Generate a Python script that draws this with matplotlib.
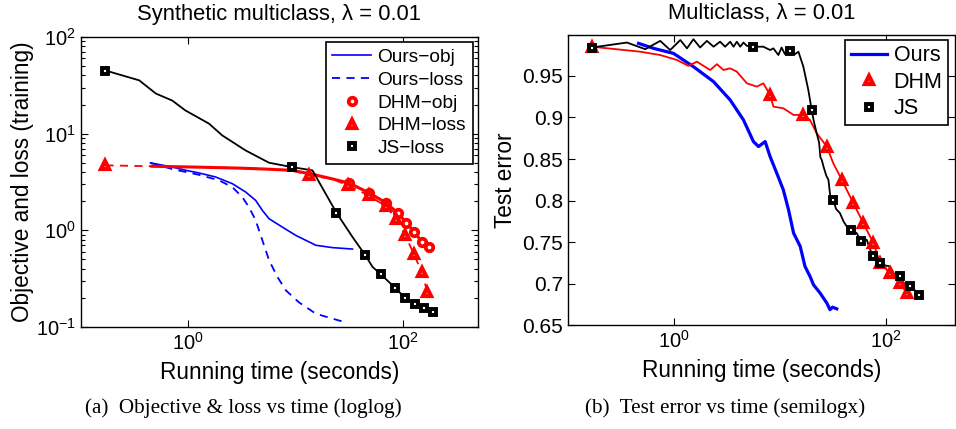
import numpy as np
import matplotlib
matplotlib.use("Agg")
import matplotlib.pyplot as plt
from matplotlib.ticker import LogLocator, NullLocator, FixedLocator, NullFormatter

plt.rcParams['font.family'] = ['Liberation Sans', 'DejaVu Sans']
plt.rcParams['mathtext.fontset'] = 'custom'
plt.rcParams['mathtext.rm'] = 'Liberation Sans'
plt.rcParams['mathtext.it'] = 'Liberation Sans:italic'
plt.rcParams['mathtext.default'] = 'regular'

# ---------------- Left panel data (loglog) ----------------
ours_obj_t = [0.446, 0.71, 0.944, 1.26, 1.8, 2.57, 3.42, 4.24, 4.89, 5.64, 7.5, 10.0, 15.4, 22.0, 33.7]
ours_obj_y = [4.98, 4.52, 4.18, 3.92, 3.56, 3.04, 2.49, 2.04, 1.61, 1.32, 1.08, 0.887, 0.70, 0.662, 0.64]

ours_loss_t = [0.446, 0.71, 1.26, 1.93, 2.57, 3.18, 3.67, 4.24, 4.89, 5.65, 6.75, 8.07, 10.7, 15.4, 22.0, 30.3]
ours_loss_y = [4.98, 4.3, 3.75, 3.29, 2.8, 2.21, 1.74, 1.27, 0.79, 0.49, 0.33, 0.24, 0.18, 0.137, 0.122, 0.11]

dhm_obj_t = [0.46, 1.26, 3.0, 5.25, 9.3, 14.3, 22.0, 31.4, 48.3, 69.0, 88.6, 107.0, 126.0, 150.0, 174.0]
dhm_obj_y = [4.6, 4.5, 4.4, 4.3, 4.17, 3.8, 3.4, 3.08, 2.43, 1.93, 1.51, 1.2, 0.96, 0.757, 0.68]
dhm_obj_marks = [7, 8, 9, 10, 11, 12, 13, 14]

dhm_loss_t = [0.17, 0.46, 1.26, 3.0, 5.25, 9.3, 13.3, 22.0, 30.3, 47.5, 69.0, 85.5, 104.0, 126.0, 148.0, 168.0]
dhm_loss_y = [4.7, 4.6, 4.5, 4.4, 4.3, 4.17, 3.7, 3.4, 2.92, 2.3, 1.77, 1.32, 0.89, 0.565, 0.37, 0.23]
dhm_loss_marks = [0, 6, 8, 9, 10, 11, 12, 13, 14, 15]

js_loss_t = [0.17, 0.35, 0.5, 0.71, 0.94, 1.56, 2.07, 3.42, 5.65, 9.3, 14.3, 23.9, 33.7, 44.0, 51.8, 62.0, 83.6, 104.0, 129.0, 155.0, 188.0]
js_loss_y = [45.0, 35.6, 26.0, 22.0, 17.4, 12.7, 9.6, 6.7, 5.0, 4.5, 4.17, 1.52, 0.853, 0.56, 0.418, 0.35, 0.255, 0.2, 0.171, 0.158, 0.143]
js_loss_marks = [0, 9, 11, 13, 15, 16, 17, 18, 19, 20]

# ---------------- Right panel data (semilogx) ----------------
ours_t = [0.464, 0.643, 0.99, 1.53, 2.37, 3.4, 4.54, 5.64, 6.3, 7.28, 8.1, 9.37, 10.8, 12.1, 13.5, 15.6, 17.3, 19.3, 20.8, 24.0, 27.8, 29.8, 31.5, 34.5]
ours_err = [0.989, 0.983, 0.977, 0.961, 0.943, 0.921, 0.897, 0.871, 0.865, 0.871, 0.853, 0.833, 0.813, 0.789, 0.761, 0.745, 0.721, 0.709, 0.699, 0.689, 0.677, 0.669, 0.672, 0.670]

dhm_t = [0.168, 0.481, 0.743, 1.07, 1.37, 1.65, 2.2, 2.55, 2.94, 3.4, 3.93, 4.89, 6.07, 7.0, 8.1, 8.7, 10.8, 13.5, 16.7, 19.3, 22.3, 27.8, 32.0, 38.5, 49.5, 61.5, 76.5, 88.5, 110.0, 136.0, 158.0]
dhm_err = [0.985, 0.979, 0.975, 0.969, 0.962, 0.967, 0.957, 0.964, 0.957, 0.959, 0.955, 0.941, 0.937, 0.941, 0.927, 0.913, 0.911, 0.903, 0.903, 0.897, 0.881, 0.865, 0.845, 0.825, 0.797, 0.773, 0.749, 0.725, 0.713, 0.701, 0.689]
dhm_marks = [0, 14, 18, 21, 23, 24, 25, 26, 27, 28, 29, 30]

js_t = [0.168, 0.36, 0.537, 0.743, 0.923, 1.15, 1.33, 1.53, 1.77, 2.05, 2.37, 2.73, 3.05, 3.4, 3.66, 3.93, 4.23, 4.54, 4.89, 5.64, 7.0, 8.1, 8.7, 9.7, 10.4, 11.2, 12.5, 13.9, 15.0, 16.7, 18.6, 20.0, 21.0, 22.3, 23.5, 24.2, 24.9, 26.0, 27.5, 28.8, 30.0, 32.0, 34.0, 37.0, 40.0, 42.9, 47.0, 53.2, 58.0, 66.2, 72.0, 76.5, 82.0, 88.5, 100.0, 110.0, 120.0, 136.0, 150.0, 170.0, 190.0, 208.0]
js_err = [0.984, 0.990, 0.982, 0.992, 0.981, 0.993, 0.983, 0.994, 0.984, 0.992, 0.985, 0.991, 0.985, 0.991, 0.985, 0.991, 0.985, 0.990, 0.986, 0.985, 0.985, 0.981, 0.983, 0.975, 0.984, 0.976, 0.980, 0.976, 0.979, 0.961, 0.933, 0.909, 0.895, 0.881, 0.870, 0.852, 0.849, 0.840, 0.830, 0.825, 0.805, 0.801, 0.790, 0.785, 0.775, 0.769, 0.765, 0.761, 0.752, 0.753, 0.740, 0.733, 0.730, 0.725, 0.722, 0.721, 0.712, 0.709, 0.700, 0.697, 0.692, 0.687]
js_marks = [0, 19, 26, 31, 41, 46, 48, 51, 53, 57, 59, 61]

# ---------------- Figure ----------------
fig = plt.figure(figsize=(9.56, 4.29), dpi=100)
FS = 16.3
TITLE_FS = 15.8
TFS = 14.5
SQ = dict(marker='s', ls='none', mfc='white', mew=2.8, ms=4.6)
TRI = dict(marker='^', ls='none', mfc='white', mew=3.0, ms=5.8)
CIR = dict(marker='o', ls='none', mfc='white', mew=2.7, ms=5.4)

def take(a, idx):
    a = np.asarray(a, dtype=float)
    return a[idx]

def style_axes(ax):
    ax.tick_params(which='both', direction='in', top=True, right=True, labelsize=TFS, width=0.8)
    ax.tick_params(which='major', length=5)
    ax.tick_params(which='minor', length=3)
    for s in ax.spines.values():
        s.set_linewidth(1.0)

# Left
ax1 = fig.add_axes([0.0844, 0.2378, 0.4156, 0.676])
ax1.set_xscale('log')
ax1.set_yscale('log')
ax1.plot(ours_obj_t, ours_obj_y, '-', color='#0000ff', lw=1.2, label='Ours\u2212obj')
ax1.plot(ours_loss_t, ours_loss_y, '--', color='#0000ff', lw=1.3, dashes=(4.5, 3.5), label='Ours\u2212loss')
ax1.plot(dhm_obj_t, dhm_obj_y, '-', color='#ff0000', lw=2.2)
ax1.plot(dhm_loss_t, dhm_loss_y, '--', color='#ff0000', lw=1.3, dashes=(4.5, 3.5))
ax1.plot(js_loss_t, js_loss_y, '-', color='black', lw=1.3)
ax1.plot(take(dhm_obj_t, dhm_obj_marks), take(dhm_obj_y, dhm_obj_marks), color='#ff0000', mec='#ff0000',
         label='DHM\u2212obj', **CIR)
ax1.plot(take(dhm_loss_t, dhm_loss_marks), take(dhm_loss_y, dhm_loss_marks), color='#ff0000', mec='#ff0000',
         label='DHM\u2212loss', **TRI)
ax1.plot(take(js_loss_t, js_loss_marks), take(js_loss_y, js_loss_marks), color='black', mec='black',
         label='JS\u2212loss', **SQ)
ax1.set_xlim(0.1, 10**2.695)
ax1.set_ylim(0.1, 100)
ax1.xaxis.set_major_locator(FixedLocator([1, 100]))
ax1.xaxis.set_minor_locator(NullLocator())
ax1.yaxis.set_major_locator(FixedLocator([0.1, 1, 10, 100]))
ax1.yaxis.set_minor_locator(LogLocator(base=10, subs=np.arange(2, 10)))
ax1.yaxis.set_minor_formatter(NullFormatter())
style_axes(ax1)
ax1.set_title('Synthetic multiclass, \u03bb = 0.01', fontsize=TITLE_FS, pad=12.5)
ax1.set_xlabel('Running time (seconds)', fontsize=FS, labelpad=5)
ax1.set_ylabel('Objective and loss (training)', fontsize=FS, labelpad=1)
leg1 = ax1.legend(loc='upper right', bbox_to_anchor=(0.987, 0.983), borderaxespad=0, fontsize=13.8,
                  frameon=True, fancybox=False, edgecolor='black', handlelength=2.0,
                  labelspacing=0.28, borderpad=0.35, handletextpad=0.35, framealpha=1)
leg1.get_frame().set_linewidth(1.2)

# Right
ax2 = fig.add_axes([0.5941, 0.2413, 0.4048, 0.677])
ax2.set_xscale('log')
ax2.plot(ours_t, ours_err, '-', color='#0000ff', lw=2.3, label='Ours')
ax2.plot(dhm_t, dhm_err, '-', color='#ff0000', lw=1.3)
ax2.plot(js_t, js_err, '-', color='black', lw=1.3)
ax2.plot(take(dhm_t, dhm_marks), take(dhm_err, dhm_marks), color='#ff0000', mec='#ff0000', label='DHM', **TRI)
ax2.plot(take(js_t, js_marks), take(js_err, js_marks), color='black', mec='black', label='JS', **SQ)
ax2.set_xlim(0.1, 10**2.654)
ax2.set_ylim(0.65, 0.999)
ax2.xaxis.set_major_locator(FixedLocator([1, 100]))
ax2.xaxis.set_minor_locator(NullLocator())
ax2.set_yticks([0.65, 0.7, 0.75, 0.8, 0.85, 0.9, 0.95])
ax2.set_yticklabels(['0.65', '0.7', '0.75', '0.8', '0.85', '0.9', '0.95'])
style_axes(ax2)
ax2.tick_params(axis='y', labelsize=15)
ax2.set_title('Multiclass, \u03bb = 0.01', fontsize=TITLE_FS, pad=11.5)
ax2.set_xlabel('Running time (seconds)', fontsize=FS, labelpad=5)
ax2.set_ylabel('Test error', fontsize=FS, labelpad=4)
leg2 = ax2.legend(loc='upper right', bbox_to_anchor=(0.982, 0.983), borderaxespad=0, fontsize=15.5,
                  frameon=True, fancybox=False, edgecolor='black', handlelength=1.7,
                  labelspacing=0.25, borderpad=0.25, handletextpad=0.3, framealpha=1)
leg2.get_frame().set_linewidth(1.2)

# Captions
fig.text(243.5 / 956, 1 - 408 / 429, '(a)  Objective & loss vs time (loglog)', ha='center', va='center',
         fontsize=15.2, family=['Liberation Serif', 'DejaVu Serif'])
fig.text(725 / 956, 1 - 408 / 429, '(b)  Test error vs time (semilogx)', ha='center', va='center',
         fontsize=15.2, family=['Liberation Serif', 'DejaVu Serif'])

fig.savefig('out.png', dpi=100)
